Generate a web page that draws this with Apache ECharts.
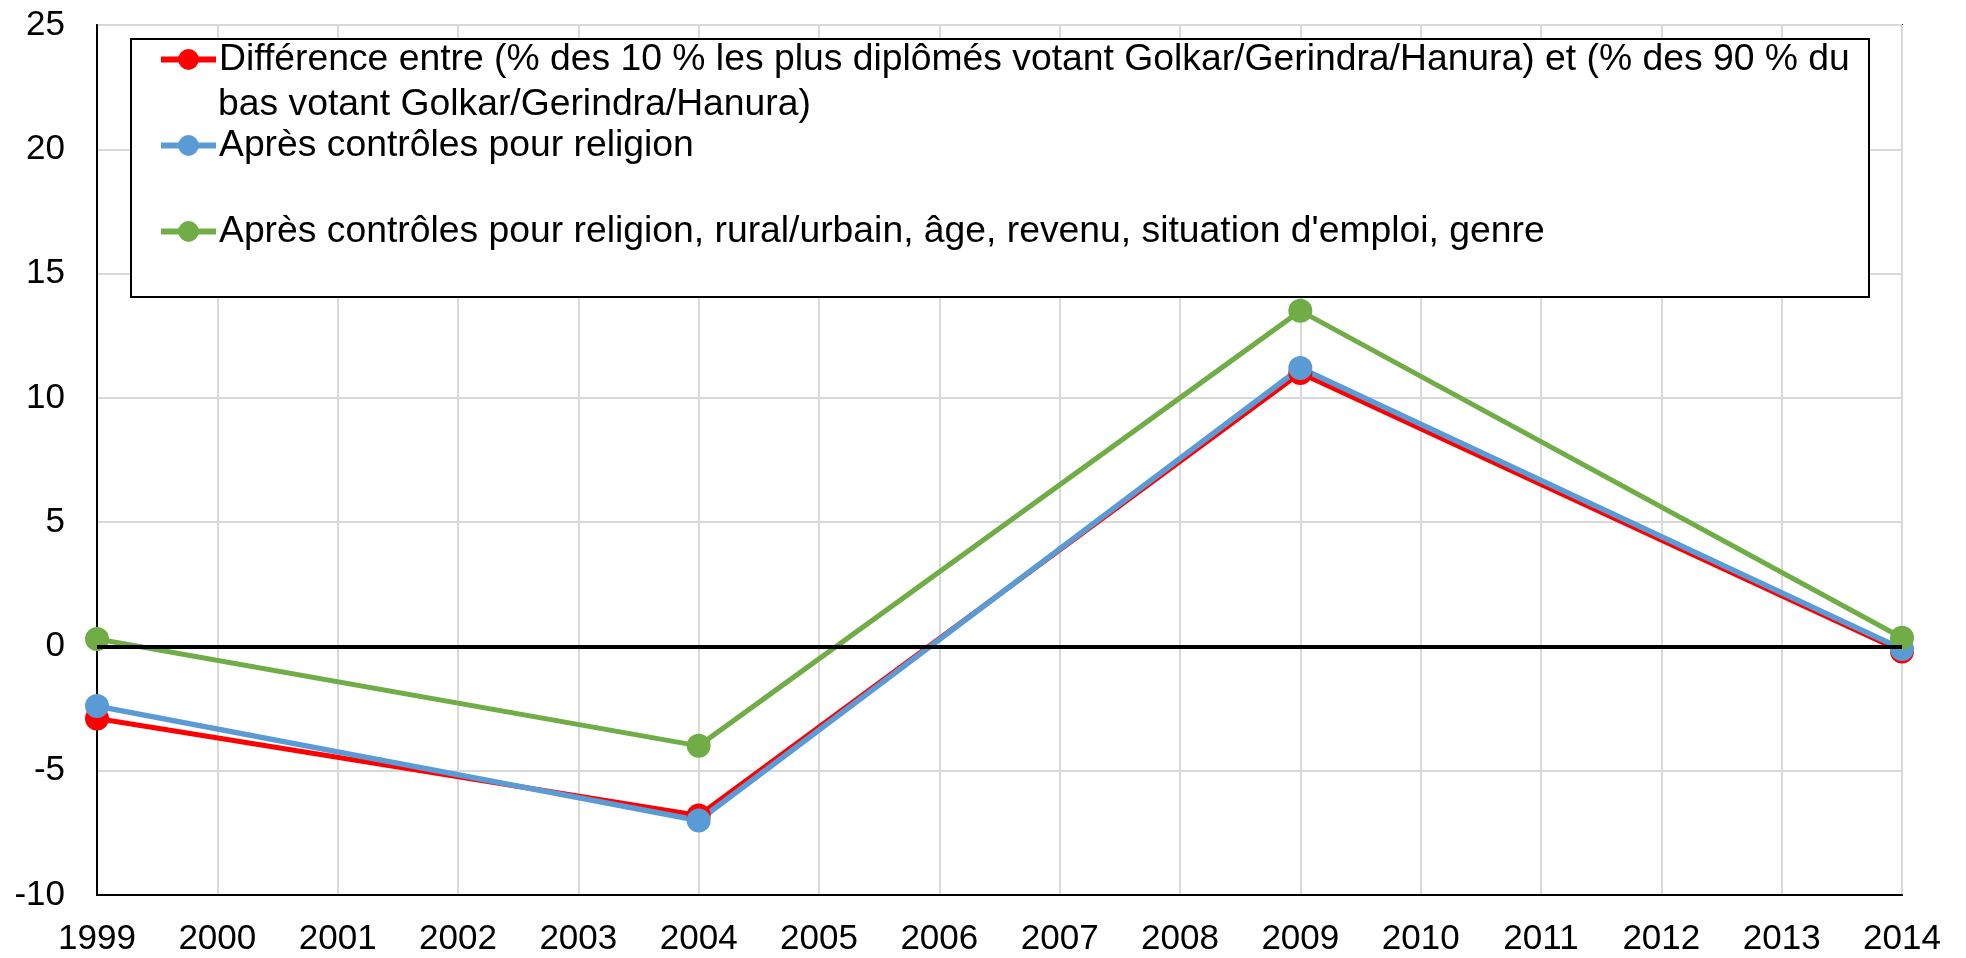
<!DOCTYPE html>
<html>
<head>
<meta charset="utf-8">
<script src="https://cdn.jsdelivr.net/npm/echarts@6/dist/echarts.min.js"></script>
<style>
  html, body { margin: 0; padding: 0; background: #fff; }
  #main { width: 1966px; height: 958px; }
</style>
</head>
<body>
<div id="main"></div>
<script>
// donnees
var years = [1999, 2004, 2009, 2014];
var diffBrute = [-2.9, -6.8, 11.0, -0.2];
var ctrlReligion = [-2.4, -7.0, 11.2, -0.1];
var ctrlTout = [0.3, -4.0, 13.5, 0.35];
var yTicks = { min: -10, max: 25, step: 5 };
var xTicks = { min: 1999, max: 2014, step: 1 };

var nomDiff = 'Différence entre (% des 10 % les plus diplômés votant Golkar/Gerindra/Hanura) et (% des 90 % du';
var nomDiffSuite = 'bas votant Golkar/Gerindra/Hanura)';
var nomReligion = 'Après contrôles pour religion';
var nomTout = "Après contrôles pour religion, rural/urbain, âge, revenu, situation d'emploi, genre";

function pairs(vals) {
  return years.map(function (y, i) { return [y, vals[i]]; });
}

var police = "'Liberation Sans', Arial, sans-serif";

var chartDom = document.getElementById('main');
var myChart = echarts.init(chartDom);

var option = {
  animation: false,
  grid: {
    left: 97, right: 64, top: 25, bottom: 63,
    show: true, borderColor: '#000', borderWidth: 2
  },
  xAxis: {
    type: 'value',
    min: xTicks.min, max: xTicks.max, interval: xTicks.step,
    axisLine: { show: true, onZero: false, lineStyle: { color: '#000', width: 2 } },
    axisTick: { show: false },
    splitLine: { show: true, lineStyle: { color: '#d9d9d9', width: 2 } },
    axisLabel: {
      margin: 27, color: '#000', fontSize: 35, fontFamily: police,
      formatter: function (v) { return String(v); }
    }
  },
  yAxis: {
    type: 'value',
    min: yTicks.min, max: yTicks.max, interval: yTicks.step,
    axisLine: { show: true, lineStyle: { color: '#000', width: 2 } },
    axisTick: { show: false },
    splitLine: { show: true, lineStyle: { color: '#d9d9d9', width: 2 } },
    axisLabel: { margin: 32, color: '#000', fontSize: 35, fontFamily: police }
  },
  legend: {
    orient: 'vertical',
    left: 158, top: 41,
    padding: 0,
    itemGap: 49,
    itemWidth: 55, itemHeight: 26,
    z: 6,
    lineStyle: { width: 6 },
    textStyle: { color: '#000', fontSize: 37.3, fontFamily: police, padding: [0, 0, 0, -2] },
    data: [nomDiff, nomReligion, nomTout]
  },
  graphic: [
    {
      type: 'rect', z: 3,
      shape: { x: 131, y: 39, width: 1738, height: 258 },
      style: { fill: '#fff', stroke: '#000', lineWidth: 2 }
    },
    {
      type: 'text', z: 6,
      x: 218, y: 105,
      style: {
        text: nomDiffSuite, fill: '#000',
        font: '37.3px ' + police, textVerticalAlign: 'middle'
      }
    }
  ],
  series: [
    {
      name: nomDiff, type: 'line',
      data: pairs(diffBrute),
      symbol: 'circle', symbolSize: 24,
      lineStyle: { color: '#ff0000', width: 5 },
      itemStyle: { color: '#ff0000' }
    },
    {
      name: nomReligion, type: 'line',
      data: pairs(ctrlReligion),
      symbol: 'circle', symbolSize: 24,
      lineStyle: { color: '#5b9bd5', width: 5.5 },
      itemStyle: { color: '#5b9bd5' },
      markLine: {
        silent: true, symbol: 'none',
        label: { show: false },
        lineStyle: { color: '#000', width: 4, type: 'solid' },
        data: [{ yAxis: 0 }]
      }
    },
    {
      name: nomTout, type: 'line',
      data: pairs(ctrlTout),
      symbol: 'circle', symbolSize: 24,
      lineStyle: { color: '#70ad47', width: 5 },
      itemStyle: { color: '#70ad47' }
    }
  ]
};

option && myChart.setOption(option);
</script>
</body>
</html>
